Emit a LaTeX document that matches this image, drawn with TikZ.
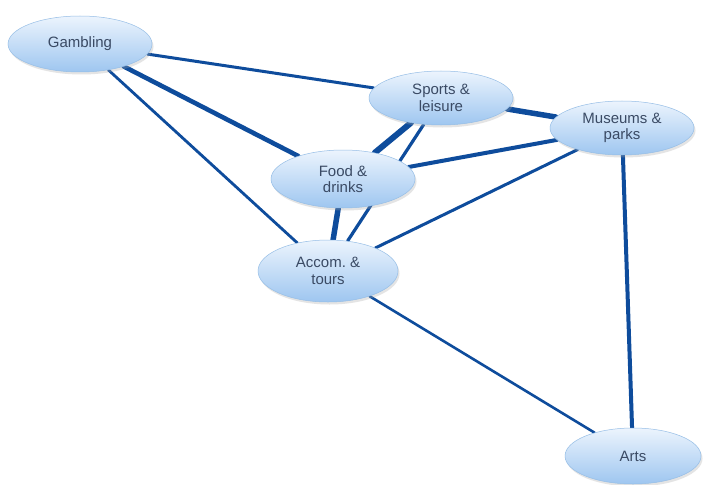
\documentclass[tikz,border=0pt]{standalone}
\usepackage{fontspec}
\setmainfont{Liberation Sans}
\usetikzlibrary{shapes.geometric,shadows,backgrounds}
\definecolor{edgeblue}{RGB}{14,76,156}
\definecolor{bubtop}{RGB}{236,244,253}
\definecolor{bubbot}{RGB}{158,198,240}
\definecolor{bubline}{RGB}{150,190,230}
\definecolor{txt}{RGB}{58,74,100}
\tikzset{
  bubble/.style={ellipse, minimum width=144pt, minimum height=56pt, inner sep=0pt,
    top color=bubtop, bottom color=bubbot, draw=bubline, line width=0.5pt,
    align=center, text=txt, font=\fontsize{15}{16.5}\selectfont,
    drop shadow={shadow xshift=1.5pt, shadow yshift=-2.5pt, opacity=0.3, fill=gray!70}},
  link/.style={draw=edgeblue, line cap=round}
}
\begin{document}
\begin{tikzpicture}[x=1pt,y=-1pt]
\useasboundingbox (0,0) rectangle (703,484);
\node[bubble] (gam) at (80,44) {Gambling};
\node[bubble, minimum height=54pt] (spo) at (441,98) {Sports \&\\leisure};
\node[bubble, minimum height=54pt] (mus) at (622,128) {Museums \&\\parks};
\node[bubble, minimum height=58pt] (foo) at (343,179) {Food \&\\drinks};
\node[bubble, minimum width=140pt, minimum height=62pt] (acc) at (328,271) {Accom.\ \&\\tours};
\node[bubble, minimum width=136pt] (art) at (633,456) {Arts};
\begin{pgfonlayer}{background}
\fill[white] (0,0) rectangle (703,484);
\draw[link, line width=3pt] (gam) -- (spo);
\draw[link, line width=4.6pt] (gam) -- (foo);
\draw[link, line width=2.8pt] (gam) -- (acc);
\draw[link, line width=6pt] (spo) -- (foo);
\draw[link, line width=3.2pt] (spo) -- (acc);
\draw[link, line width=5.5pt] (spo) -- (mus);
\draw[link, line width=4pt] (foo) -- (mus);
\draw[link, line width=3pt] (acc) -- (mus);
\draw[link, line width=5.5pt] (foo) -- (acc);
\draw[link, line width=4pt] (mus) -- (art);
\draw[link, line width=2.6pt] (acc) -- (art);
\end{pgfonlayer}
\end{tikzpicture}
\end{document}
